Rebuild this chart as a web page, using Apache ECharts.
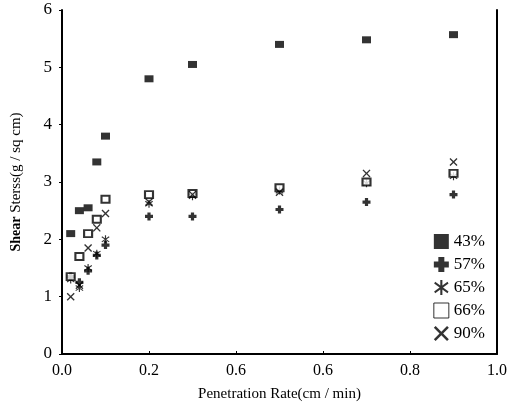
<!DOCTYPE html>
<html><head><meta charset="utf-8">
<script src="https://cdn.jsdelivr.net/npm/echarts@6/dist/echarts.min.js"></script>
<style>html,body{margin:0;padding:0;background:#fff}#c{width:512px;height:411px}</style>
</head><body><div id="c"></div>
<script>
const xValues = [0.02, 0.04, 0.06, 0.08, 0.1, 0.2, 0.3, 0.5, 0.7, 0.9];
const s43 = [2.1, 2.5, 2.55, 3.35, 3.8, 4.8, 5.05, 5.4, 5.48, 5.57];
const s57 = [1.35, 1.25, 1.45, 1.72, 1.9, 2.4, 2.4, 2.52, 2.65, 2.78];
const s65 = [1.3, 1.15, 1.5, 1.75, 2.0, 2.62, 2.75, 2.85, 2.98, 3.1];
const s66 = [1.35, 1.7, 2.1, 2.35, 2.7, 2.78, 2.8, 2.9, 3.0, 3.15];
const s90 = [1.0, 1.2, 1.85, 2.2, 2.45, 2.65, 2.78, 2.82, 3.15, 3.35];
const seriesNames = ['43%', '57%', '65%', '66%', '90%'];
const xTickLabels = ['0.0', '0.2', '0.6', '0.6', '0.8', '1.0'];
const yTickLabels = ['0', '1', '2', '3', '4', '5', '6'];

const font = '"Liberation Serif", "DejaVu Serif", serif';
const plusPath = 'path://M3,0H7V3H10V7H7V10H3V7H0V3H3Z';
const starPath = 'path://M4.3,0H5.7V10H4.3Z M0.2,2.4 L0.9,1.2 L9.8,7.6 L9.1,8.8Z M0.2,7.6 L9.1,1.2 L9.8,2.4 L0.9,8.8Z';
const crossPath = 'path://M0,1.2 L1.2,0 L5,3.8 L8.8,0 L10,1.2 L6.2,5 L10,8.8 L8.8,10 L5,6.2 L1.2,10 L0,8.8 L3.8,5Z';

const pts = arr => xValues.map((x, i) => [x, arr[i]]);
const mk = (name, arr, symbol, size, style) => ({
  name, type: 'scatter', data: pts(arr), symbol, symbolSize: size,
  itemStyle: style, emphasis: {disabled: true}
});

const chart = echarts.init(document.getElementById('c'));
chart.setOption({
  animation: false,
  grid: {left: 62, right: 15, top: 10, bottom: 57},
  legend: {
    orient: 'vertical', right: 22, bottom: 64, itemWidth: 15, itemHeight: 15, itemGap: 6,
    textStyle: {fontFamily: font, fontSize: 17, color: '#000'},
    data: [
      {name: '43%', icon: 'rect', itemStyle: {color: '#000'}},
      {name: '57%', icon: plusPath, itemStyle: {color: '#000'}},
      {name: '65%', icon: starPath, itemStyle: {color: '#000'}},
      {name: '66%', icon: 'rect', itemStyle: {color: '#fff', borderColor: '#000', borderWidth: 1}},
      {name: '90%', icon: crossPath, itemStyle: {color: '#000'}}
    ]
  },
  xAxis: {
    type: 'value', min: 0, max: 1, interval: 0.2,
    name: 'Penetration Rate(cm / min)', nameLocation: 'middle', nameGap: 33,
    nameTextStyle: {fontFamily: font, fontSize: 15, color: '#000'},
    axisLine: {lineStyle: {color: '#000', width: 2}},
    axisTick: {inside: true, length: 3, lineStyle: {color: '#000'}},
    splitLine: {show: false},
    axisLabel: {fontFamily: font, fontSize: 16, color: '#000', margin: 9,
      formatter: v => xTickLabels[Math.round(v / 0.2)]}
  },
  yAxis: [{
    type: 'value', min: 0, max: 6, interval: 1,
    name: '{b|Shear} Sterss(g / sq cm)', nameLocation: 'middle', nameGap: 38,
    nameTextStyle: {fontFamily: font, fontSize: 15, color: '#000',
      rich: {b: {fontFamily: font, fontSize: 14, fontWeight: 'bold', color: '#000'}}},
    axisLine: {show: true, lineStyle: {color: '#000', width: 2}},
    axisTick: {show: true, length: 3, lineStyle: {color: '#000'}},
    splitLine: {show: false},
    axisLabel: {fontFamily: font, fontSize: 17, color: '#000', margin: 10,
      formatter: v => yTickLabels[Math.round(v)]}
  }, {
    type: 'value', min: 0, max: 6, position: 'right',
    axisLine: {show: true, lineStyle: {color: '#000', width: 2}},
    axisTick: {show: false}, axisLabel: {show: false}, splitLine: {show: false}
  }],
  series: [
    mk('43%', s43, 'rect', [9, 7], {color: '#000'}),
    mk('57%', s57, plusPath, 8, {color: '#000'}),
    mk('65%', s65, starPath, 8, {color: '#000'}),
    mk('66%', s66, 'rect', [8, 7], {color: '#fff', borderColor: '#000', borderWidth: 2}),
    mk('90%', s90, crossPath, 8, {color: '#000'})
  ]
});
</script></body></html>
